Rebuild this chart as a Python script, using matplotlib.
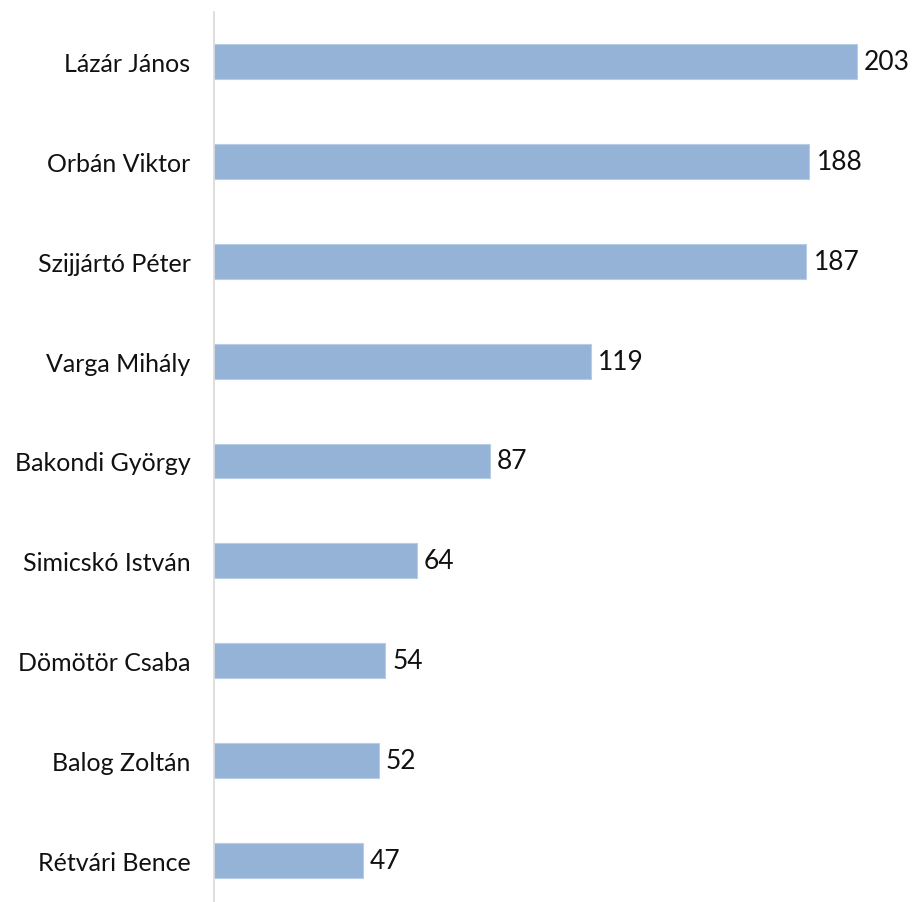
import numpy as np
from matplotlib import pyplot as plt

plt.rcParams['font.family'] = ['Lato', 'DejaVu Sans']

names = ["Lázár János", "Orbán Viktor", "Szijjártó Péter", "Varga Mihály",
         "Bakondi György", "Simicskó István", "Dömötör Csaba", "Balog Zoltán",
         "Rétvári Bence"]
values = [203, 188, 187, 119, 87, 64, 54, 52, 47]

fig = plt.figure(figsize=(9.19, 9.03), dpi=100)
# axes placed to match the original layout
ax = fig.add_axes([214 / 919, 1 - 911 / 903, 1 - 214 / 919, 898 / 903])

y = np.arange(len(names))
ax.barh(y, values, height=0.35, color='#95b3d7', edgecolor='#b8cce4', linewidth=0.8)

for yi, v in zip(y, values):
    ax.text(v + 2.3, yi, str(v), va='center', ha='left', fontsize=19, color='#111111')

ax.set_yticks(y)
ax.set_yticklabels(names, fontsize=18, color='#111111')
ax.tick_params(axis='y', length=0, pad=17)
ax.set_xticks([])
ax.set_xlim(0, 222.6)
ax.set_ylim(len(names) - 0.5, -0.5)

for s in ['top', 'right', 'bottom']:
    ax.spines[s].set_visible(False)
ax.spines['left'].set_color('#d9d9d9')
ax.spines['left'].set_linewidth(1.2)

plt.savefig('out.png', dpi=100)
